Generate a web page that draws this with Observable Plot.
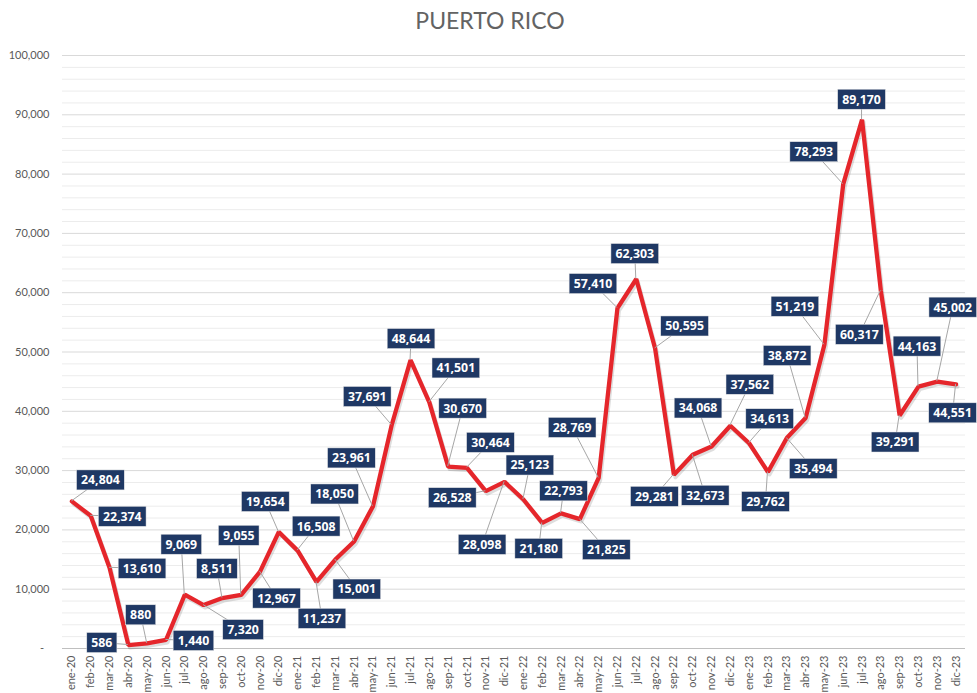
<!DOCTYPE html>
<html><head><meta charset="utf-8">
<script src="https://cdn.jsdelivr.net/npm/d3@7"></script>
<script src="https://cdn.jsdelivr.net/npm/@observablehq/plot@0.6"></script>
<style>body{margin:0;background:#fff}</style>
</head><body><div id="chart"></div>
<script>
const months = ["ene-20","feb-20","mar-20","abr-20","may-20","jun-20","jul-20","ago-20","sep-20","oct-20","nov-20","dic-20",
"ene-21","feb-21","mar-21","abr-21","may-21","jun-21","jul-21","ago-21","sep-21","oct-21","nov-21","dic-21",
"ene-22","feb-22","mar-22","abr-22","may-22","jun-22","jul-22","ago-22","sep-22","oct-22","nov-22","dic-22",
"ene-23","feb-23","mar-23","abr-23","may-23","jun-23","jul-23","ago-23","sep-23","oct-23","nov-23","dic-23"];
const values = [24804,22374,13610,586,880,1440,9069,7320,8511,9055,12967,19654,
16508,11237,15001,18050,23961,37691,48644,41501,30670,30464,26528,28098,
25123,21180,22793,21825,28769,57410,62303,50595,29281,32673,34068,37562,
34613,29762,35494,38872,51219,78293,89170,60317,39291,44163,45002,44551];
const yTicks = [0,10000,20000,30000,40000,50000,60000,70000,80000,90000,100000];
const minorTicks = d3.range(0, 100001, 2000).filter(v => v % 10000 !== 0);
// label box offsets (pixels) relative to each point
const labelOffsets = [[29,-21],[32,1],[33,1],[-26,-2],[-6,-28],[28,1],[-3,-50],[40,25],[-5,-29],[-2,-59],[17,27],[-13,-30],
[19,-24],[6,37],[22,30],[-19,-47],[-21,-48],[-24,-28],[1,-21],[27,-34],[15,-58],[24,-25],[-33,7],[-22,63],
[7,-34],[-3,26],[3,-22],[27,31],[-26,-50],[-24,-24],[-1,-25],[30,-22],[-19,22],[13,41],[-13,-38],[20,-41],
[21,-24],[-2,30],[27,31],[-18,-62],[-29,-38],[-29,-32],[0,-20],[-21,44],[-4,27],[-1,-40],[16,-74],[-3,29]];

const data = months.map((m, i) => ({month: m, value: values[i]}));
const fmt = d3.format(",");

const plot = Plot.plot({
  width: 977, height: 693,
  marginLeft: 62, marginRight: 12, marginTop: 55, marginBottom: 45,
  style: {fontFamily: "Lato, sans-serif", fontSize: "11px", color: "#595959", background: "#fff", overflow: "visible"},
  x: {type: "point", domain: months, padding: 0.5, label: null, tickRotate: -90, tickSize: 0, tickPadding: 7},
  y: {domain: [0, 100000], ticks: yTicks, label: null, tickSize: 0, tickPadding: 13,
      tickFormat: d => d === 0 ? "-\u2002" : fmt(d)},
  marks: [
    Plot.ruleY(minorTicks, {stroke: "#ececec", strokeWidth: 1}),
    Plot.ruleY(yTicks.slice(1), {stroke: "#d9d9d9", strokeWidth: 1}),
    Plot.ruleY([0], {stroke: "#bfbfbf", strokeWidth: 1}),
    Plot.line(data, {x: "month", y: "value", stroke: "#000", strokeOpacity: 0.13, strokeWidth: 4, dx: 1.5, dy: 2.5}),
    Plot.line(data, {x: "month", y: "value", stroke: "#e5262b", strokeWidth: 4.3, strokeLinejoin: "miter"}),
    Plot.text(["PUERTO RICO"], {frameAnchor: "top", lineAnchor: "bottom", dy: -26.5, dx: -24,
      fontSize: 23, fill: "#636363", fontFamily: "Lato, sans-serif"})
  ]
});
document.getElementById("chart").appendChild(plot);

const sxs = plot.scale("x"), sys = plot.scale("y");
const sx = sxs.apply ? sxs.apply : d3.scalePoint().domain(sxs.domain).range(sxs.range).padding(0.5);
const sy = sys.apply ? sys.apply : d3.scaleLinear().domain(sys.domain).range(sys.range);
const svg = d3.select(plot.tagName.toLowerCase() === "svg" ? plot : plot.querySelector("svg"));
const gLines = svg.append("g").attr("class", "leaders");
const gLabels = svg.append("g").attr("class", "labels");
data.forEach((d, i) => {
  const px = sx(d.month), py = sy(d.value);
  const [ox, oy] = labelOffsets[i];
  const cx = px + ox, cy = py + oy;
  gLines.append("line").attr("x1", px).attr("y1", py).attr("x2", cx).attr("y2", cy)
    .attr("stroke", "#a6a6a6").attr("stroke-width", 1);
  const g = gLabels.append("g");
  const rect = g.append("rect");
  const t = g.append("text").attr("x", cx).attr("y", cy).attr("dy", "0.36em")
    .attr("text-anchor", "middle").attr("fill", "#fff")
    .attr("font-family", "'Open Sans', sans-serif").attr("font-weight", "bold").attr("font-size", 12.3)
    .text(fmt(d.value));
  const bb = t.node().getBBox();
  const w = bb.width + 9, h = 20;
  rect.attr("x", cx - w / 2).attr("y", cy - h / 2).attr("width", w).attr("height", h)
    .attr("fill", "#1f3864").attr("stroke", "#e6e6e6").attr("stroke-width", 0.5);
});
</script>
</body></html>
